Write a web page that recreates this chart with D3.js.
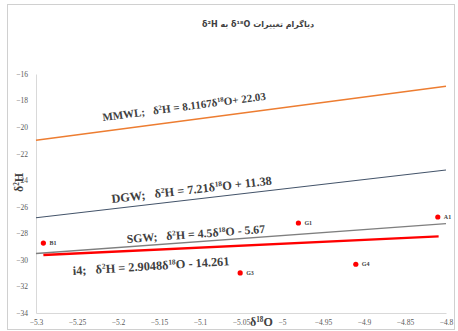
<!DOCTYPE html>
<html>
<head>
<meta charset="utf-8">
<script src="https://cdn.jsdelivr.net/npm/d3@7"></script>
<style>
  body { margin: 0; background: #fff; }
  svg { display: block; }
</style>
</head>
<body>
<svg width="458" height="331"></svg>
<script>
// values
var xTicks = [-5.3, -5.25, -5.2, -5.15, -5.1, -5.05, -5, -4.95, -4.9, -4.85, -4.8];
var yTicks = [-34, -32, -30, -28, -26, -24, -22, -20, -18, -16];

var lineNames = ["MMWL", "DGW", "SGW", "i4"];
var lineX1 = [-5.3, -5.3, -5.3, -5.291];
var lineX2 = [-4.8, -4.8, -4.8, -4.809];
var lineY1 = [-20.99, -26.83, -29.52, -29.63];
var lineY2 = [-16.93, -23.23, -27.27, -28.23];
var lineColors = ["#ED7D31", "#44546A", "#7F7F7F", "#FF0000"];
var lineWidths = [1.5, 1.1, 1.4, 2.4];
var sp = "\u00a0\u00a0\u00a0";
var lineEq = [
    [["MMWL;" + sp + "δ", ""], ["2", "sup"], ["H = 8.1167δ", ""], ["18", "sup"], ["O+ 22.03", ""]],
    [["DGW;" + sp + "δ", ""], ["2", "sup"], ["H = 7.21δ", ""], ["18", "sup"], ["O + 11.38", ""]],
    [["SGW;" + sp + "δ", ""], ["2", "sup"], ["H = 4.5δ", ""], ["18", "sup"], ["O - 5.67", ""]],
    [["i4;" + sp + "δ", ""], ["2", "sup"], ["H = 2.9048δ", ""], ["18", "sup"], ["O - 14.261", ""]]
];

var pointNames = ["B1", "G1", "G3", "G4", "A1"];
var pointX = [-5.291, -4.98, -5.051, -4.91, -4.81];
var pointY = [-28.73, -27.22, -30.98, -30.33, -26.77];

var svg = d3.select("svg");

// outer frame
svg.append("rect")
    .attr("x", 7.5).attr("y", 4.5)
    .attr("width", 447).attr("height", 325)
    .attr("fill", "none")
    .attr("stroke", "#D0D0D0");

var x = d3.scaleLinear().domain([-5.3, -4.8]).range([36, 446]);
var y = d3.scaleLinear().domain([-34, -16]).range([313, 74]);

// axes
var xAxis = svg.append("g")
    .attr("transform", "translate(0," + y(-34) + ")")
    .call(d3.axisBottom(x).tickValues(xTicks).tickSize(0).tickPadding(7)
        .tickFormat(function(d) { return d3.format("")(d); }));
var yAxis = svg.append("g")
    .attr("transform", "translate(" + x(-5.3) + ",0)")
    .call(d3.axisLeft(y).tickValues(yTicks).tickSize(0).tickPadding(8));

[xAxis, yAxis].forEach(function(a) {
    a.select(".domain").attr("stroke", "#D9D9D9").attr("stroke-width", 1);
    a.selectAll("text")
        .attr("fill", "#595959")
        .style("font-family", "'Liberation Serif', serif")
        .style("font-size", "7.5px");
});

// title
svg.append("text")
    .attr("x", 258).attr("y", 27)
    .attr("text-anchor", "middle")
    .attr("direction", "rtl")
    .attr("fill", "#404040")
    .style("font-family", "'DejaVu Sans', sans-serif")
    .style("font-size", "8px")
    .style("font-weight", "bold")
    .text("دیاگرام تغییرات δ¹⁸O به δ²H");

function addRich(sel, parts, size) {
    parts.forEach(function(p) {
        var t = sel.append("tspan").text(p[0]);
        if (p[1] == "sup") {
            t.style("font-size", (size * 0.6) + "px").attr("dy", -size * 0.35);
        } else {
            t.attr("dy", sel.selectAll("tspan").size() > 1 ? size * 0.35 : 0);
        }
    });
}

// axis titles
var xt = svg.append("text")
    .attr("x", 250).attr("y", 326)
    .attr("fill", "#404040")
    .style("font-family", "'Liberation Serif', serif")
    .style("font-size", "12px")
    .style("font-weight", "bold");
addRich(xt, [["δ", ""], ["18", "sup"], ["O", ""]], 12);

var yt = svg.append("text")
    .attr("transform", "translate(23,192) rotate(-90)")
    .attr("fill", "#404040")
    .style("font-family", "'Liberation Serif', serif")
    .style("font-size", "12px")
    .style("font-weight", "bold");
addRich(yt, [["δ", ""], ["2", "sup"], ["H", ""]], 12);

// regression lines
svg.selectAll(".fit")
    .data(lineNames)
    .enter()
    .append("line")
    .attr("class", "fit")
    .attr("x1", function(d, i) { return x(lineX1[i]); })
    .attr("x2", function(d, i) { return x(lineX2[i]); })
    .attr("y1", function(d, i) { return y(lineY1[i]); })
    .attr("y2", function(d, i) { return y(lineY2[i]); })
    .attr("stroke", function(d, i) { return lineColors[i]; })
    .attr("stroke-width", function(d, i) { return lineWidths[i]; });

// equation labels
var eqPos = [[103, 121, -7.4], [112, 203, -6.6], [127, 243, -4.2], [73, 275, -3.6]];
var eqSize = [11, 12.3, 11.8, 12.3];
lineNames.forEach(function(n, i) {
    var t = svg.append("text")
        .attr("transform", "translate(" + eqPos[i][0] + "," + eqPos[i][1] + ") rotate(" + eqPos[i][2] + ")")
        .attr("fill", "#404040")
        .style("font-family", "'Liberation Serif', serif")
        .style("font-size", eqSize[i] + "px")
        .style("font-weight", "bold");
    addRich(t, lineEq[i], eqSize[i]);
});

// samples
svg.selectAll(".pt")
    .data(pointNames)
    .enter()
    .append("circle")
    .attr("class", "pt")
    .attr("cx", function(d, i) { return x(pointX[i]); })
    .attr("cy", function(d, i) { return y(pointY[i]); })
    .attr("r", 2.6)
    .attr("fill", "#FF0000");

svg.selectAll(".ptlab")
    .data(pointNames)
    .enter()
    .append("text")
    .attr("class", "ptlab")
    .attr("x", function(d, i) { return x(pointX[i]) + 6; })
    .attr("y", function(d, i) { return y(pointY[i]) + 2.2; })
    .attr("fill", "#404040")
    .style("font-family", "'Liberation Serif', serif")
    .style("font-size", "6px")
    .style("font-weight", "bold")
    .text(function(d) { return d; });
</script>
</body>
</html>
